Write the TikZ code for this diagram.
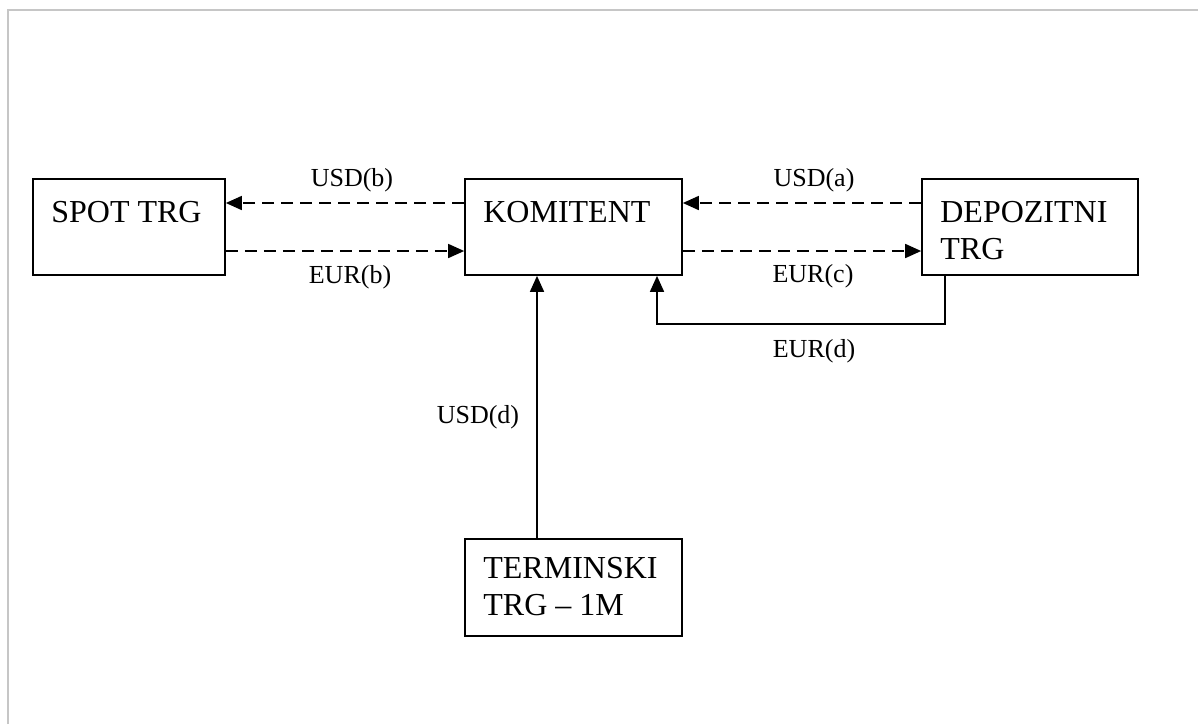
\documentclass[tikz,border=0pt]{standalone}
\usepackage{fontspec}
\setmainfont{Liberation Serif}
\usetikzlibrary{arrows.meta}

\begin{document}
\begin{tikzpicture}[x=1pt, y=-1pt,
		box/.style={draw, line width=1.7pt, inner sep=0pt, minimum height=96pt},
		boxtext/.style={anchor=north west, inner sep=0pt, align=left, xshift=19pt, yshift=-23pt, font=\fontsize{32}{37}\selectfont},
		lbl/.style={inner sep=0pt, font=\fontsize{26}{30}\selectfont},
		flow/.style={line width=1.7pt, -{Triangle[length=16pt, width=14pt]}},
		dashflow/.style={flow, dash pattern=on 12pt off 7pt}]
		\useasboundingbox(0, 0)rectangle(1198, 724);
		\draw[line width=2pt, gray!45](8, 724)--(8, 10)--(1198, 10);
		\node[box, minimum width=192pt, label={[boxtext]north west:SPOT TRG}](spot)at(129, 227){};
		\node[box, minimum width=217pt, label={[boxtext]north west:KOMITENT}](komitent)at(573.5, 227){};
		\node[box, minimum width=216pt, label={[boxtext]north west:{DEPOZITNI\\TRG}}](depozit)at(1030, 227){};
		\node[box, minimum width=217pt, minimum height=97pt, label={[boxtext, yshift=4pt]north west:{TERMINSKI\\TRG -- 1M}}](termin)at(573.5, 587.5){};
		\draw[dashflow]([yshift=24pt]komitent.west)--([yshift=24pt]spot.east)node[lbl, midway, above=10pt, xshift=7pt]{USD(b)};
		\draw[dashflow]([yshift=-24pt]spot.east)--([yshift=-24pt]komitent.west)node[lbl, midway, below=14pt, xshift=5pt]{EUR(b)};
		\draw[dashflow]([yshift=24pt]depozit.west)--([yshift=24pt]komitent.east)node[lbl, midway, above=10pt, xshift=12pt]{USD(a)};
		\draw[dashflow]([yshift=-24pt]komitent.east)--([yshift=-24pt]depozit.west)node[lbl, midway, below=13pt, xshift=11pt]{EUR(c)};
		\draw[flow]([xshift=-85pt]depozit.south)--++(0, 48)--node[lbl, below=15pt, xshift=13pt]{EUR(d)}++(-288, 0)--([xshift=83.5pt]komitent.south);
		\draw[flow]([xshift=-36.5pt]termin.north)--([xshift=-36.5pt]komitent.south)node[lbl, pos=0.46, left=17pt]{USD(d)};
	\end{tikzpicture}
\end{document}
